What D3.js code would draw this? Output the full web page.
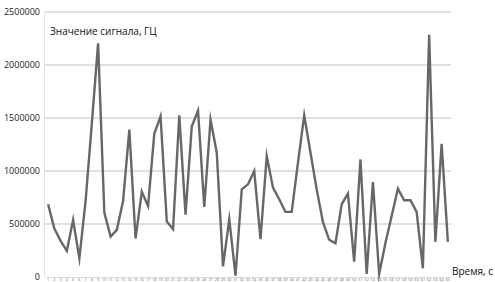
<!DOCTYPE html>
<html>
<head>
<meta charset="utf-8">
<script src="https://cdn.jsdelivr.net/npm/d3@7"></script>
<style>
  html, body { margin: 0; padding: 0; background: #fff; }
  svg { display: block; }
</style>
</head>
<body>
<svg id="chart" width="495" height="282"></svg>
<script>
const categories = [1,2,3,4,5,6,7,8,9,10,11,12,13,14,15,16,17,18,19,20,21,22,23,24,25,26,27,28,29,30,31,32,33,34,35,36,37,38,39,40,41,42,43,44,45,46,47,48,49,50,51,52,53,54,55,56,57,58,59,60,61,62,63,64,65];
const signal = [686000,458000,341000,247000,539000,176000,717000,1450000,2205000,608000,
  382000,445000,717000,1391000,363000,805000,670000,1353000,1516000,523000,
  451000,1525000,589000,1422000,1569000,661000,1485000,1172000,100000,545000,
  12000,827000,874000,999000,357000,1140000,843000,733000,614000,614000,
  1078000,1525000,1175000,827000,517000,351000,317000,686000,787000,144000,
  1109000,28000,896000,28000,320000,576000,834000,724000,724000,614000,
  82000,2284000,332000,1256000,332000];
const yTicks = [0,500000,1000000,1500000,2000000,2500000];
const yTitle = "Значение сигнала, ГЦ";
const xTitle = "Время, с";

(function () {
const svg = d3.select("#chart");
const font = "'Open Sans', 'DejaVu Sans', sans-serif";
const pLeft = 45, pRight = 451, pTop = 12, pBottom = 277;

const x = d3.scaleBand().domain(categories).range([pLeft, pRight]);
const y = d3.scaleLinear().domain([0, 2500000]).range([pBottom, pTop]);

// gridlines
svg.append("g").selectAll("line").data(yTicks.filter(d => d > 0)).join("line")
  .attr("x1", pLeft).attr("x2", pRight)
  .attr("y1", d => y(d)).attr("y2", d => y(d))
  .attr("stroke", "#d6d6d6").attr("stroke-width", 1.5);

// left axis line
svg.append("line").attr("x1", pLeft - 0.5).attr("x2", pLeft - 0.5)
  .attr("y1", pTop).attr("y2", pBottom)
  .attr("stroke", "#e2e2e2").attr("stroke-width", 1);

// y axis labels
const yAxis = d3.axisLeft(y).tickValues(yTicks).tickSize(0).tickPadding(5).tickFormat(d3.format("d"));
const gy = svg.append("g").attr("transform", `translate(${pLeft},0)`).call(yAxis);
gy.select(".domain").remove();
gy.selectAll("text").attr("font-family", font).attr("font-size", 9).attr("fill", "#222").attr("dy", "0.3em");

// x axis tiny labels
const xAxis = d3.axisBottom(x).tickSize(0).tickPadding(1);
const gx = svg.append("g").attr("transform", `translate(0,${pBottom})`).call(xAxis);
gx.select(".domain").attr("stroke", "#dcdcdc");
gx.selectAll("text").attr("font-family", font).attr("font-size", 3.6).attr("fill", "#666");

// line
const line = d3.line().x((d, i) => x(categories[i]) + x.bandwidth() / 2).y(d => y(d));
svg.append("path").datum(signal)
  .attr("d", line).attr("fill", "none")
  .attr("stroke", "#676767").attr("stroke-width", 2.4)
  .attr("stroke-linejoin", "miter").attr("stroke-miterlimit", 10);

// titles
svg.append("text").attr("x", 50).attr("y", 34.5).text(yTitle)
  .attr("font-family", font).attr("font-size", 10).attr("fill", "#111");
svg.append("text").attr("x", 452).attr("y", 275).text(xTitle)
  .attr("font-family", font).attr("font-size", 10).attr("fill", "#111");
})();
</script>
</body>
</html>
